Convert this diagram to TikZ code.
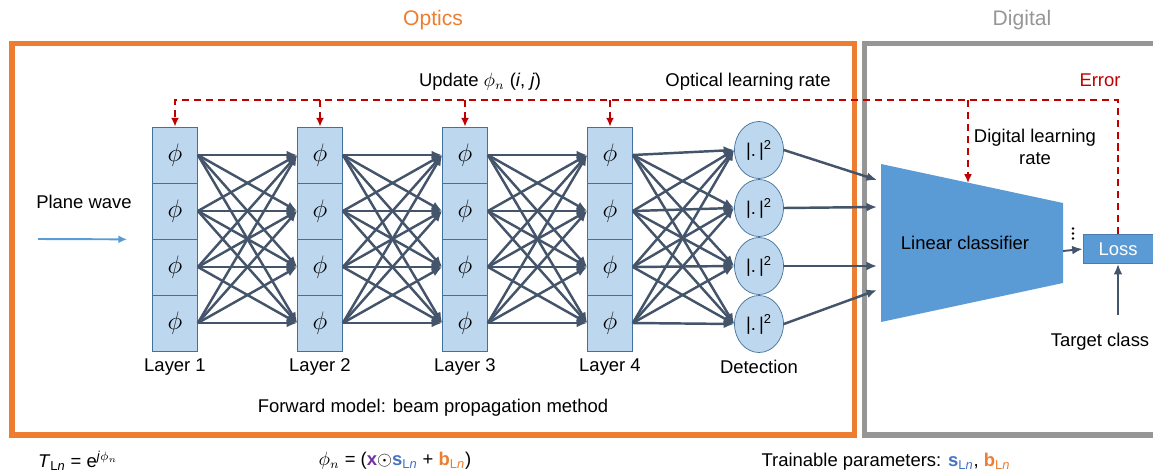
\documentclass[tikz,border=0pt]{standalone}
\usepackage{fontspec}
\setmainfont{Liberation Sans}
\usepackage{amsmath}
\usetikzlibrary{arrows.meta,positioning,shapes.geometric}
\definecolor{optorange}{RGB}{237,125,49}
\definecolor{diggrey}{RGB}{150,150,150}
\definecolor{cellfill}{RGB}{189,215,238}
\definecolor{celledge}{RGB}{65,113,156}
\definecolor{wire}{RGB}{68,84,106}
\definecolor{errred}{RGB}{192,0,0}
\definecolor{clsblue}{RGB}{91,155,213}
\definecolor{parpurple}{RGB}{112,48,160}
\definecolor{parblue}{RGB}{68,114,196}

\begin{document}
\begin{tikzpicture}[x=0.02cm, y=-0.02cm,
  every node/.style={font=\fontsize{10.5}{12.5}\selectfont},
  cell/.style={draw=celledge, fill=cellfill, minimum width=0.9cm, minimum height=1.12cm, inner sep=0pt},
  det/.style={ellipse, draw=celledge, fill=cellfill, minimum width=0.98cm, minimum height=1.14cm, inner sep=0pt},
  wired/.style={wire, line width=1.4pt, -{Latex[length=6pt,width=5pt]}},
  fb/.style={errred, line width=1.35pt, dash pattern=on 4pt off 2.8pt},
  fbarrow/.style={fb, -{Latex[length=5pt,width=4.5pt]}},
  boxline/.style={line width=2.9pt},
  hdg/.style={font=\fontsize{12}{14}\selectfont},
  lossbox/.style={fill=clsblue, draw=clsblue!80!black, minimum width=1.4cm, minimum height=0.58cm, text=white}]
\useasboundingbox (0,0) rectangle (1153,474);

% frames
\draw[optorange, boxline] (12,43.5) rectangle (854.5,435);
\draw[diggrey, boxline] (1153,43.5) -- (864.5,43.5) -- (864.5,435) -- (1153,435);
\node[hdg, text=optorange] (optics) at (433,20) {Optics};
\node[hdg, text=diggrey] (digital) at (1022,20) {Digital};

% phase layers
\foreach \l/\x in {1/175,2/320,3/465,4/610}{
  \foreach \c/\y in {1/155,2/211,3/267,4/323}
    \node[cell] (L\l-\c) at (\x,\y) {\Large$\phi$};
  \node (lab\l) at (\x,367) {Layer \l};
}
\foreach \c/\y in {1/150,2/208,3/266,4/324}
  \node[det] (d\c) at (759,\y) {|.\,|\textsuperscript{2}};
\node (labdet) at (759,367) {Detection};

\foreach \a/\b in {1/2,2/3,3/4}
  \foreach \i in {1,...,4}
    \foreach \j in {1,...,4}
      \draw[wired] (L\a-\i.east) -- (L\b-\j.west);
\foreach \i in {1,...,4}
  \foreach \j in {1,...,4}
    \draw[wired] (L4-\i.east) -- (d\j.west);

\node (pw) at (84,202) {Plane wave};
\coordinate (pwstart) at (38,239);
\draw[clsblue, line width=1.1pt, -{Latex[length=5pt,width=4.5pt]}] (pwstart) -- ([xshift=-0.5cm]L1-2.south west);
\node (fwd) at (433,408) {Forward model: beam propagation method};

% digital part
\fill[clsblue] (881,164) -- (1063,203) -- (1063,283) -- (881,322) -- cycle;
\node (clf) at (965,243) {Linear classifier};
\coordinate (in1) at (877,180);
\coordinate (in2) at (877,207);
\coordinate (in3) at (877,266);
\coordinate (in4) at (877,290);
\foreach \c in {1,...,4}
  \draw[wired] (d\c.east) -- (in\c);

\node[lossbox] (loss) at (1118,249) {Loss};
\coordinate (clfout) at (1063,251);
\draw[wired, line width=1.1pt] (clfout) -- (loss.west);
\foreach \y in {228.5,233.5,238.5}
  \fill[black] (1073,\y) circle (0.8pt);
\node (target) at (1100,342) {Target class};
\draw[wired] ([yshift=0.25cm]target.north -| loss.south) -- (loss.south);

% error feedback
\coordinate (errcorner) at (1118,100);
\draw[fbarrow] (loss.north) -- (errcorner) -- (L1-1.north |- errcorner) -- (L1-1.north);
\foreach \l in {2,3,4}
  \draw[fbarrow] (L\l-1.north |- errcorner) -- (L\l-1.north);
\coordinate (dlr) at (968,183);
\draw[fbarrow] (dlr |- errcorner) -- (dlr);

\node (upd) at (480,82) {Update $\phi_n$ (\textit{i}, \textit{j})};
\node (olr) at (748,82) {Optical learning rate};
\node[text=errred] (err) at (1100,80) {Error};
\node[align=center] (dlrtxt) at (1035,147) {Digital learning\\rate};

% formulas
\node (tln) at (78,461) {\textit{T}\textsubscript{L\textit{n}} = e\textsuperscript{\textit{j}$\phi_n$}};
\node (phin) at (395,461) {$\phi_n$ = (\textcolor{parpurple}{\textbf{x}}$\odot$\textcolor{parblue}{\textbf{s}\textsubscript{L\textit{n}}} + \textcolor{optorange}{\textbf{b}\textsubscript{L\textit{n}}})};
\node (train) at (886,462) {Trainable parameters: \textcolor{parblue}{\textbf{s}\textsubscript{L\textit{n}}}, \textcolor{optorange}{\textbf{b}\textsubscript{L\textit{n}}}};
\end{tikzpicture}
\end{document}
